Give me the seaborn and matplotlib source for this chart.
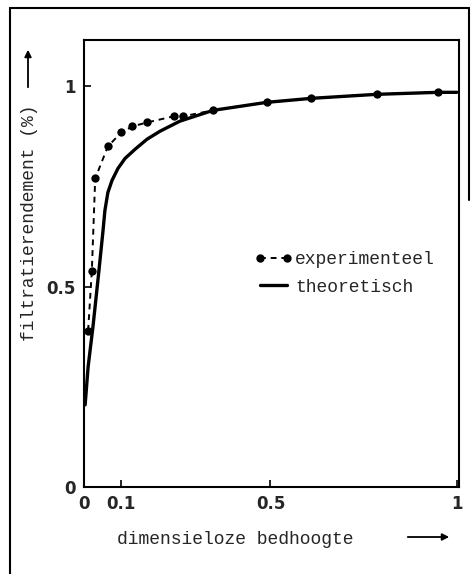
import matplotlib
matplotlib.use("Agg")
import matplotlib.pyplot as plt
from matplotlib.lines import Line2D
import seaborn as sns

# gemeten punten (experimenteel)
x_exp = [0.011, 0.021, 0.030, 0.064, 0.100, 0.130, 0.170, 0.240, 0.265, 0.346, 0.490, 0.610, 0.785, 0.950]
y_exp = [0.39, 0.54, 0.77, 0.85, 0.885, 0.90, 0.91, 0.925, 0.925, 0.94, 0.96, 0.97, 0.98, 0.985]

# theoretische kromme
x_th = [0.003, 0.011, 0.024, 0.040, 0.051, 0.056, 0.064, 0.075, 0.091, 0.110, 0.137, 0.169,
        0.204, 0.257, 0.346, 0.490, 0.610, 0.785, 0.950, 1.0]
y_th = [0.205, 0.30, 0.40, 0.54, 0.64, 0.69, 0.735, 0.765, 0.795, 0.82, 0.843, 0.868,
        0.888, 0.913, 0.94, 0.96, 0.97, 0.98, 0.985, 0.985]

x_ticks = [0, 0.1, 0.5, 1]
x_ticklabels = ["0", "0.1", "0.5", "1"]
y_ticks = [0, 0.5, 1]
y_ticklabels = ["0", "0.5", "1"]

sns.set_style("ticks")
plt.rcParams["font.family"] = ["Liberation Mono", "DejaVu Sans"]

fig = plt.figure(figsize=(4.72, 5.74), dpi=100)
ax = fig.add_axes([0.178, 0.1516, 0.794, 0.779])

sns.lineplot(x=x_exp, y=y_exp, ax=ax, color="black", linewidth=1.4, linestyle=(0, (3, 2.5)),
             marker="o", markersize=6, markeredgewidth=0, sort=False, label="experimenteel")
sns.lineplot(x=x_th, y=y_th, ax=ax, color="black", linewidth=2.4, sort=False, label="theoretisch")

ax.set_xlim(0, 1.005)
ax.set_ylim(0, 1.116)
ax.set_xticks(x_ticks)
ax.set_xticklabels(x_ticklabels)
ax.set_yticks(y_ticks)
ax.set_yticklabels(y_ticklabels)
ax.tick_params(direction="in", length=5, width=1.2, color="black", labelsize=12, pad=6)
for lab in ax.get_xticklabels() + ax.get_yticklabels():
    lab.set_family("DejaVu Sans")
    lab.set_fontweight("bold")
for sp in ax.spines.values():
    sp.set_visible(True)
    sp.set_linewidth(1.5)
    sp.set_color("black")

ax.set_xlabel("")
ax.set_ylabel("")

leg = ax.legend(loc="center left", bbox_to_anchor=(0.455, 0.478), frameon=False, fontsize=13,
                handlelength=2.1, handletextpad=0.15, labelspacing=0.6, borderpad=0,
                borderaxespad=0, numpoints=2)
for h in leg.legend_handles:
    h.set_color("black")

# aslabels met pijlen
fig.text(235 / 472, 1 - 539 / 574, "dimensieloze bedhoogte", ha="center", va="center", fontsize=13)
fig.text(30 / 472, 1 - 223 / 574, "filtratierendement (%)", ha="center", va="center",
         rotation=90, fontsize=13)
fig.add_artist(matplotlib.patches.FancyArrowPatch((405 / 472, 1 - 537 / 574), (452 / 472, 1 - 537 / 574),
               transform=fig.transFigure, arrowstyle="-|>", mutation_scale=10, color="black", lw=1.3))
fig.add_artist(matplotlib.patches.FancyArrowPatch((28 / 472, 1 - 90 / 574), (28 / 472, 1 - 47 / 574),
               transform=fig.transFigure, arrowstyle="-|>", mutation_scale=10, color="black", lw=1.3))

# kader rond de figuur
fig.add_artist(Line2D([10 / 472, 10 / 472], [0, 1 - 8 / 574], transform=fig.transFigure, color="black", lw=1.5))
fig.add_artist(Line2D([10 / 472, 469 / 472], [1 - 8 / 574, 1 - 8 / 574], transform=fig.transFigure, color="black", lw=1.5))
fig.add_artist(Line2D([469 / 472, 469 / 472], [1 - 8 / 574, 1 - 200 / 574], transform=fig.transFigure, color="black", lw=1.5))

fig.savefig("out.png", dpi=100)
